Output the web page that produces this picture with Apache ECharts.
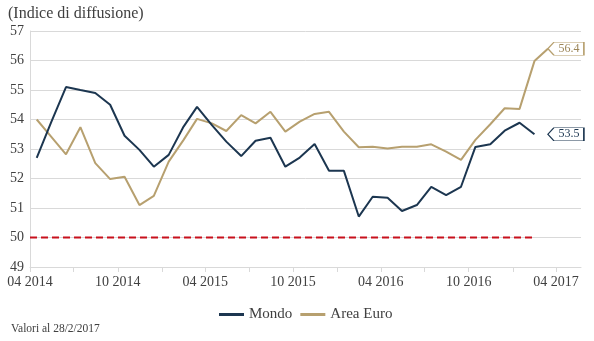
<!DOCTYPE html>
<html>
<head>
<meta charset="utf-8">
<script src="https://cdn.jsdelivr.net/npm/echarts@6/dist/echarts.min.js"></script>
<style>html,body{margin:0;padding:0;background:#fff}#c{width:594px;height:341px}</style>
</head>
<body>
<div id="c"></div>
<script>
// Months (data points plotted mid-month)
const months = ['2014-04','2014-05','2014-06','2014-07','2014-08','2014-09','2014-10','2014-11','2014-12',
  '2015-01','2015-02','2015-03','2015-04','2015-05','2015-06','2015-07','2015-08','2015-09','2015-10','2015-11','2015-12',
  '2016-01','2016-02','2016-03','2016-04','2016-05','2016-06','2016-07','2016-08','2016-09','2016-10','2016-11','2016-12',
  '2017-01','2017-02','2017-03'];
const mondo = [52.7, 53.9, 55.1, 55.0, 54.9, 54.5, 53.45, 52.97, 52.4, 52.8, 53.76, 54.43, 53.81, 53.25, 52.76, 53.28,
  53.38, 52.4, 52.71, 53.17, 52.26, 52.26, 50.71, 51.38, 51.35, 50.9, 51.1, 51.72, 51.44, 51.72, 53.07, 53.16, 53.62, 53.89, 53.5];
const areaEuro = [54.0, 53.42, 52.82, 53.74, 52.52, 51.98, 52.06, 51.1, 51.41, 52.57, 53.31, 54.02, 53.87, 53.61, 54.15,
  53.87, 54.26, 53.59, 53.93, 54.19, 54.26, 53.59, 53.06, 53.08, 53.02, 53.08, 53.08, 53.16, 52.91, 52.63, 53.31, 53.84,
  54.38, 54.36, 55.98, 56.4];
const thresholdDates = ['2014-04-01', '2017-02-15'];
const thresholdValue = 50;
const axisStart = '2014-04-01';
const axisEnd = '2017-05-23';
const tickMonths = ['2014-04','2014-07','2014-10','2015-01','2015-04','2015-07','2015-10','2016-01','2016-04','2016-07','2016-10','2017-01','2017-04'];
const labelMonths = ['2014-04','2014-10','2015-04','2015-10','2016-04','2016-10','2017-04'];
const yTicks = [49, 50, 51, 52, 53, 54, 55, 56, 57];

const NAVY = '#1c3650';
const GOLD = '#b7a06f';
const FONT = '"Liberation Serif", "DejaVu Serif", serif';

function toTime(s, day) {
  const p = s.split('-');
  return new Date(+p[0], +p[1] - 1, day || (p[2] ? +p[2] : 1)).getTime();
}
const mid = m => toTime(m, 15);
const mondoData = mondo.map((v, i) => [mid(months[i]), v]);
const euroData = areaEuro.map((v, i) => [mid(months[i]), v]);
const lastDate = mid(months[months.length - 1]);

function endLabel(color, value, textColor) {
  return {
    silent: true,
    symbol: 'path://M0,6 L6,0 L36,0 L36,12 L6,12 Z',
    symbolSize: [36, 13],
    symbolOffset: ['50%', 0],
    itemStyle: { color: '#fff', borderColor: color, borderWidth: 1 },
    label: { show: true, position: 'inside', offset: [3, 0], color: textColor, fontSize: 12,
      fontFamily: FONT, formatter: p => Number(p.value).toFixed(1) },
    data: [{ coord: [lastDate, value], value: value }]
  };
}

const chart = echarts.init(document.getElementById('c'), null, { renderer: 'canvas' });
chart.setOption({
  animation: false,
  backgroundColor: '#fff',
  title: [
    { text: '(Indice di diffusione)', left: 3, top: 1, textStyle: { fontFamily: FONT, fontSize: 16, fontWeight: 'normal', color: '#404040' } },
    { text: 'Valori al 28/2/2017', left: 6, top: 318, textStyle: { fontFamily: FONT, fontSize: 11.5, fontWeight: 'normal', color: '#404040' } }
  ],
  legend: {
    left: 214, top: 302,
    icon: 'rect', itemWidth: 25, itemHeight: 3, itemGap: 8,
    textStyle: { fontFamily: FONT, fontSize: 15, color: '#404040' },
    data: ['Mondo', 'Area Euro']
  },
  grid: { left: 30, right: 13, top: 31, bottom: 74, containLabel: false },
  xAxis: {
    type: 'value',
    min: toTime(axisStart), max: toTime(axisEnd),
    axisLine: { show: true, lineStyle: { color: '#d9d9d9', width: 1 } },
    axisTick: { show: true, length: 5, lineStyle: { color: '#d9d9d9' }, customValues: tickMonths.map(m => toTime(m)) },
    axisLabel: {
      customValues: labelMonths.map(m => toTime(m)),
      color: '#404040', fontSize: 14, fontFamily: FONT, margin: 8,
      formatter: v => { const d = new Date(v); return String(d.getMonth() + 1).padStart(2, '0') + ' ' + d.getFullYear(); }
    },
    splitLine: { show: false }
  },
  yAxis: {
    type: 'value', min: yTicks[0], max: yTicks[yTicks.length - 1], interval: 1,
    axisLine: { show: true, lineStyle: { color: '#d9d9d9' } },
    axisTick: { show: false },
    axisLabel: { color: '#404040', fontSize: 14, fontFamily: FONT, margin: 6 },
    splitLine: { show: true, lineStyle: { color: '#d9d9d9', width: 1 } }
  },
  series: [
    {
      name: 'Mondo', type: 'line', data: mondoData, symbol: 'none',
      lineStyle: { color: NAVY, width: 2 }, itemStyle: { color: NAVY },
      markPoint: endLabel(NAVY, mondo[mondo.length - 1], NAVY), z: 3
    },
    {
      name: 'Area Euro', type: 'line', data: euroData, symbol: 'none',
      lineStyle: { color: GOLD, width: 2 }, itemStyle: { color: GOLD },
      markPoint: endLabel(GOLD, areaEuro[areaEuro.length - 1], '#9c8658'), z: 2
    },
    {
      name: 'soglia', type: 'line', data: thresholdDates.map(d => [toTime(d), thresholdValue]), symbol: 'none',
      lineStyle: { color: '#c8101c', width: 2, type: [7, 4] }, silent: true, z: 1
    }
  ]
});
</script>
</body>
</html>
